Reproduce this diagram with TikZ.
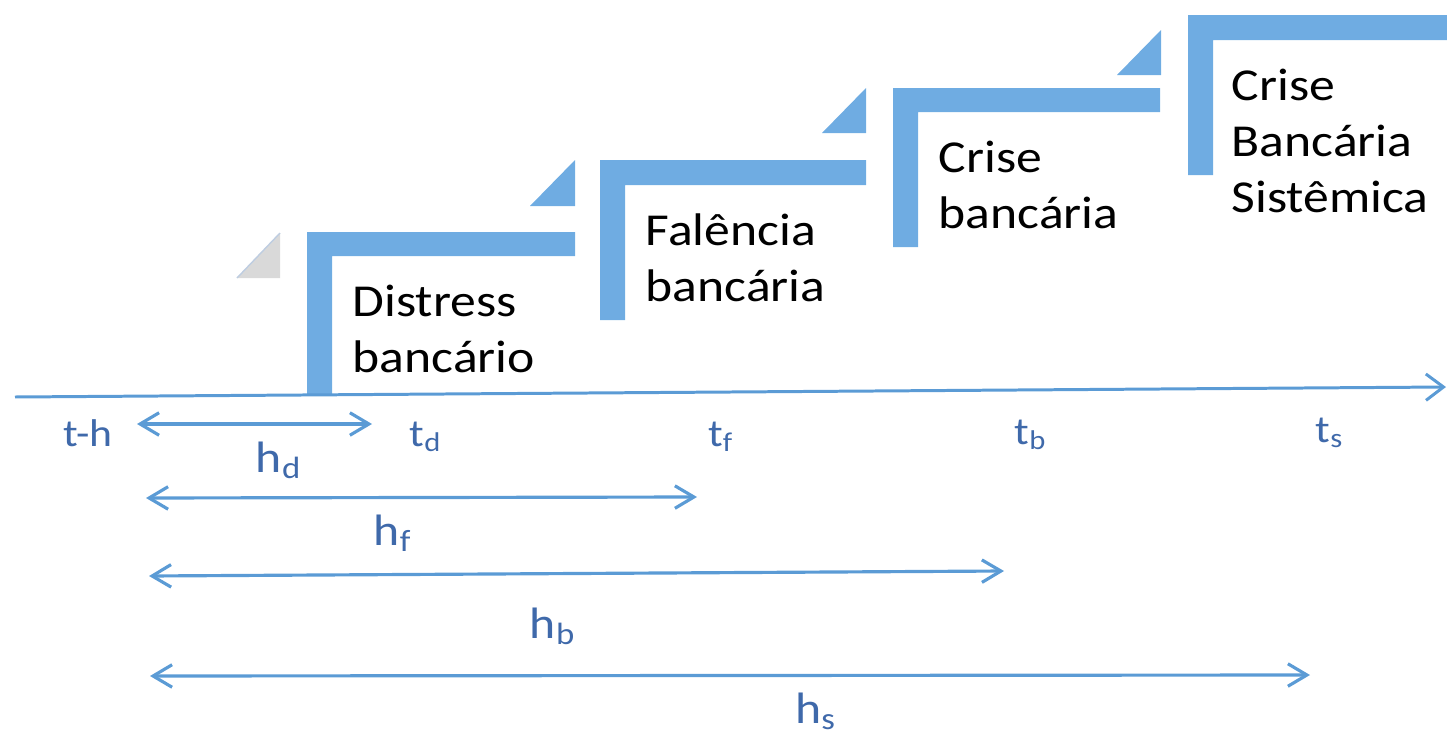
\documentclass[tikz,border=0pt]{standalone}
\usepackage{fontspec}
\setmainfont{Carlito}[FakeStretch=1.13]
\usetikzlibrary{arrows.meta, positioning}
\definecolor{stepblue}{RGB}{111,172,226}
\definecolor{lineblue}{RGB}{91,155,213}
\definecolor{labelblue}{RGB}{63,105,170}
\definecolor{tipgray}{RGB}{217,217,217}
\definecolor{tipedge}{RGB}{190,205,225}
\tikzset{
	stagetext/.style={anchor=base west, align=left, inner sep=0pt, font=\fontsize{13pt}{15.8pt}\selectfont},
	tlabel/.style={anchor=base, inner sep=0pt, text=labelblue, font=\fontsize{11pt}{13pt}\selectfont},
	hlabel/.style={anchor=base, inner sep=0pt, text=labelblue, font=\fontsize{12.5pt}{15pt}\selectfont},
	span/.style={lineblue, line width=0.9pt, {Straight Barb[length=5.4pt,width=6.4pt]}-{Straight Barb[length=5.4pt,width=6.4pt]}},
}

\begin{document}
\begin{tikzpicture}[x=0.01cm, y=-0.01cm]
\useasboundingbox (0,0) rectangle (1447,733);
% steps
\fill[tipgray] (237,278) -- (280,278) -- (280,233) -- cycle;
\draw[tipedge, line width=0.4pt] (237,278) -- (280,233);
\fill[stepblue] (307,232) -- (575,232) -- (575,256) -- (332,256) -- (332,395) -- (307,395) -- cycle;
\fill[stepblue] (530,206) -- (575,206) -- (575,160) -- cycle;
\fill[stepblue] (600,160) -- (866,160) -- (866,185) -- (625,185) -- (625,320) -- (600,320) -- cycle;
\fill[stepblue] (822,133) -- (866,133) -- (866,88) -- cycle;
\fill[stepblue] (893,88) -- (1160,88) -- (1160,112) -- (918,112) -- (918,247) -- (893,247) -- cycle;
\fill[stepblue] (1117,75) -- (1161,75) -- (1161,30) -- cycle;
\fill[stepblue] (1188,15) -- (1447,15) -- (1447,40) -- (1213,40) -- (1213,175) -- (1188,175) -- cycle;
% base anchor sits on the last line
\node[stagetext] (distress) at (352,372) {Distress\\bancário};
\node[stagetext] (falencia) at (645,301) {Falência\\bancária};
\node[stagetext] (crise) at (938,228) {Crise\\bancária};
\node[stagetext] (sistemica) at (1231,212) {Crise\\Bancária\\Sistêmica};
% time axis
\coordinate (axis0) at (15,397);
\coordinate (axis1) at (1446,387);
\draw[lineblue, line width=0.85pt, -{Straight Barb[length=5pt,width=7.5pt]}] (axis0) -- (axis1);
\node[tlabel] (th) at (88,446) {t-h};
\node[tlabel] (td) at (426,446) {t\textsubscript{d}};
\node[tlabel] (tf) at (721,446) {t\textsubscript{f}};
\node[tlabel] (tb) at (1031,444) {t\textsubscript{b}};
\node[tlabel] (ts) at (1330,442) {t\textsubscript{s}};
% horizons
\coordinate (hd0) at (137,424);
\coordinate (hd1) at (372,424);
\coordinate (hf0) at (146,498);
\coordinate (hf1) at (697,497);
\coordinate (hb0) at (149,576);
\coordinate (hb1) at (1004,571);
\coordinate (hs0) at (150,676);
\coordinate (hs1) at (1310,675);
\draw[span] (hd0) -- (hd1);
\draw[span] (hf0) -- (hf1);
\draw[span] (hb0) -- (hb1);
\draw[span] (hs0) -- (hs1);
\node[hlabel] (hd) at (279,472) {h\textsubscript{d}};
\node[hlabel] (hf) at (393,545) {h\textsubscript{f}};
\node[hlabel] (hb) at (553,638) {h\textsubscript{b}};
\node[hlabel] (hs) at (816,723) {h\textsubscript{s}};
\end{tikzpicture}
\end{document}
